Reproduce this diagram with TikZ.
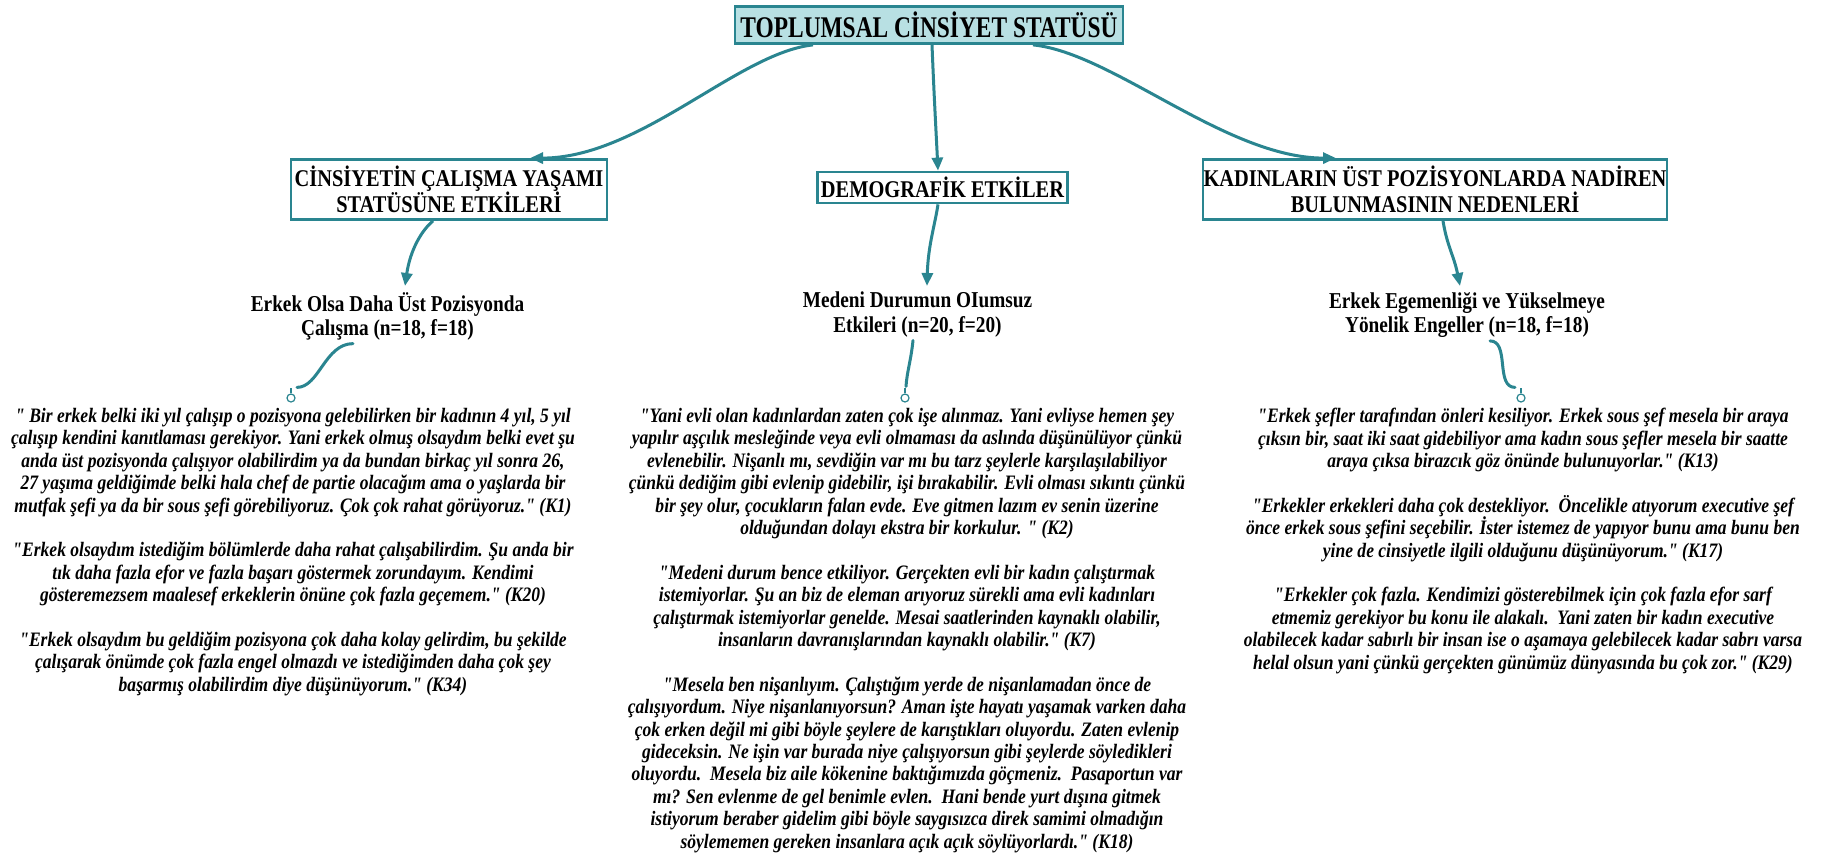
\documentclass[tikz,border=0pt]{standalone}
\usepackage{fontspec}
\setmainfont{Liberation Serif}[FakeStretch=0.85, Ligatures=TeXOff]
\newfontfamily\titlefont{Liberation Serif}[FakeStretch=0.78, Ligatures=TeXOff]
\newfontfamily\quotefont{Liberation Serif}[FakeStretch=0.856, Ligatures=TeXOff]
\usetikzlibrary{arrows.meta}
\definecolor{tealline}{HTML}{2A8590}
\definecolor{tealfill}{HTML}{B8E0E3}
\begin{document}
\begin{tikzpicture}[x=1pt,y=-1pt,
  box/.style={draw=tealline, line width=2.8pt, fill=white, inner sep=0pt, align=center, font=\fontsize{24}{26}\selectfont\bfseries},
  titlebox/.style={box, fill=tealfill, font=\titlefont\fontsize{30}{32}\selectfont\bfseries},
  subhead/.style={inner sep=0pt, align=center, anchor=north, font=\fontsize{22.7}{24.5}\selectfont\bfseries},
  quote/.style={inner sep=0pt, align=center, anchor=north, font=\quotefont\fontsize{20.5}{22.4}\selectfont\bfseries\itshape},
  conn/.style={draw=tealline, line width=3pt, -{Triangle[length=13pt,width=11pt]}},
  link/.style={draw=tealline, line width=3pt, line cap=round},
  stem/.style={draw=tealline, line width=1.2pt},
  dotc/.style={circle, draw=tealline, line width=1.2pt, inner sep=0pt, minimum size=8pt, fill=white}
]
\useasboundingbox (0,0) rectangle (1822,857);
\fill[white] (0,0) rectangle (1822,857);

\node[titlebox, minimum width=388pt, minimum height=37pt] (T) at (929,25) {TOPLUMSAL CİNSİYET STATÜSÜ};
\node[box, minimum width=316pt, minimum height=60pt] (B1) at (449,189.5) {CİNSİYETİN ÇALIŞMA YAŞAMI\\STATÜSÜNE ETKİLERİ};
\node[box, minimum width=250pt, minimum height=31pt] (B2) at (942.5,187.5) {DEMOGRAFİK ETKİLER};
\node[box, minimum width=464pt, minimum height=60pt] (B3) at (1435,189.5) {KADINLARIN ÜST POZİSYONLARDA NADİREN\\BULUNMASININ NEDENLERİ};

\node[subhead] (S1) at (387.5,292) {Erkek Olsa Daha Üst Pozisyonda\\Çalışma (n=18, f=18)};
\node[subhead] (S2) at (917.5,292) {Medeni Durumun OIumsuz\\Etkileri (n=20, f=20)};
\node[subhead] (S3) at (1467,292) {Erkek Egemenliği ve Yükselmeye\\Yönelik Engeller (n=18, f=18)};

\node[dotc] (c1) at (291,398) {};
\node[dotc] (c2) at (905,398) {};
\node[dotc] (c3) at (1521,398) {};

\node[quote] (Q1) at (293,408) {" Bir erkek belki iki yıl çalışıp o pozisyona gelebilirken bir kadının 4 yıl, 5 yıl\\
çalışıp kendini kanıtlaması gerekiyor. Yani erkek olmuş olsaydım belki evet şu\\
anda üst pozisyonda çalışıyor olabilirdim ya da bundan birkaç yıl sonra 26,\\
27 yaşıma geldiğimde belki hala chef de partie olacağım ama o yaşlarda bir\\
mutfak şefi ya da bir sous şefi görebiliyoruz. Çok çok rahat görüyoruz." (K1)\\[22.4pt]
"Erkek olsaydım istediğim bölümlerde daha rahat çalışabilirdim. Şu anda bir\\
tık daha fazla efor ve fazla başarı göstermek zorundayım. Kendimi\\
gösteremezsem maalesef erkeklerin önüne çok fazla geçemem." (K20)\\[22.4pt]
"Erkek olsaydım bu geldiğim pozisyona çok daha kolay gelirdim, bu şekilde\\
çalışarak önümde çok fazla engel olmazdı ve istediğimden daha çok şey\\
başarmış olabilirdim diye düşünüyorum." (K34)};

\node[quote] (Q2) at (907,408) {"Yani evli olan kadınlardan zaten çok işe alınmaz. Yani evliyse hemen şey\\
yapılır aşçılık mesleğinde veya evli olmaması da aslında düşünülüyor çünkü\\
evlenebilir. Nişanlı mı, sevdiğin var mı bu tarz şeylerle karşılaşılabiliyor\\
çünkü dediğim gibi evlenip gidebilir, işi bırakabilir. Evli olması sıkıntı çünkü\\
bir şey olur, çocukların falan evde. Eve gitmen lazım ev senin üzerine\\
olduğundan dolayı ekstra bir korkulur. " (K2)\\[22.4pt]
"Medeni durum bence etkiliyor. Gerçekten evli bir kadın çalıştırmak\\
istemiyorlar. Şu an biz de eleman arıyoruz sürekli ama evli kadınları\\
çalıştırmak istemiyorlar genelde. Mesai saatlerinden kaynaklı olabilir,\\
insanların davranışlarından kaynaklı olabilir." (K7)\\[22.4pt]
"Mesela ben nişanlıyım. Çalıştığım yerde de nişanlamadan önce de\\
çalışıyordum. Niye nişanlanıyorsun? Aman işte hayatı yaşamak varken daha\\
çok erken değil mi gibi böyle şeylere de karıştıkları oluyordu. Zaten evlenip\\
gideceksin. Ne işin var burada niye çalışıyorsun gibi şeylerde söyledikleri\\
oluyordu.\ \ Mesela biz aile kökenine baktığımızda göçmeniz.\ \ Pasaportun var\\
mı? Sen evlenme de gel benimle evlen.\ \ Hani bende yurt dışına gitmek\\
istiyorum beraber gidelim gibi böyle saygısızca direk samimi olmadığın\\
söylememen gereken insanlara açık açık söylüyorlardı." (K18)};

\node[quote] (Q3) at (1523,408) {"Erkek şefler tarafından önleri kesiliyor. Erkek sous şef mesela bir araya\\
çıksın bir, saat iki saat gidebiliyor ama kadın sous şefler mesela bir saatte\\
araya çıksa birazcık göz önünde bulunuyorlar." (K13)\\[22.4pt]
"Erkekler erkekleri daha çok destekliyor.\ \ Öncelikle atıyorum executive şef\\
önce erkek sous şefini seçebilir. İster istemez de yapıyor bunu ama bunu ben\\
yine de cinsiyetle ilgili olduğunu düşünüyorum." (K17)\\[22.4pt]
"Erkekler çok fazla. Kendimizi gösterebilmek için çok fazla efor sarf\\
etmemiz gerekiyor bu konu ile alakalı.\ \ Yani zaten bir kadın executive\\
olabilecek kadar sabırlı bir insan ise o aşamaya gelebilecek kadar sabrı varsa\\
helal olsun yani çünkü gerçekten günümüz dünyasında bu çok zor." (K29)};

% title to boxes
\draw[conn] ([xshift=-116pt]T.south) .. controls +(-75,8) and +(110,0) .. ([xshift=81pt]B1.north);
\draw[conn] ([xshift=3pt]T.south) .. controls +(2,50) and +(-2,-40) .. ([xshift=-4.5pt]B2.north);
\draw[conn] ([xshift=104pt]T.south) .. controls +(80,8) and +(-110,0) .. ([xshift=-99pt]B3.north);

% boxes to subheadings
\draw[conn] ([xshift=-16pt]B1.south) .. controls +(-12,10) and +(5,-35) .. ([xshift=17.5pt,yshift=6pt]S1.north);
\draw[conn] ([xshift=-4.5pt]B2.south) .. controls +(-3,20) and +(1,-40) .. ([xshift=9.5pt,yshift=6pt]S2.north);
\draw[conn] ([xshift=8pt]B3.south) .. controls +(4,25) and +(-6,-30) .. ([xshift=-7pt,yshift=6pt]S3.north);

% subheadings to quotes
\draw[link] ([xshift=-34.5pt,yshift=-3pt]S1.south) .. controls +(-28,0) and +(22,0) .. ([xshift=6pt,yshift=6pt]c1.north);
\draw[link] ([xshift=-4.5pt,yshift=-3pt]S2.south) .. controls +(-2,20) and +(1,-15) .. ([xshift=1pt,yshift=7pt]c2.north);
\draw[link] ([xshift=23pt,yshift=-3pt]S3.south) .. controls +(20,0) and +(-20,0) .. ([xshift=-6pt,yshift=6pt]c3.north);
\draw[stem] (c1.north) -- ++(0,-5);
\draw[stem] (c2.north) -- ++(0,-5);
\draw[stem] (c3.north) -- ++(0,-5);
\end{tikzpicture}
\end{document}
